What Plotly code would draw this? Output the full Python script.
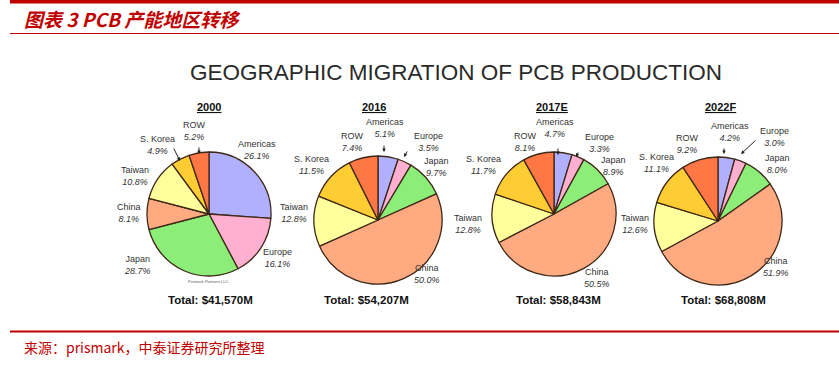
import plotly.graph_objects as go

W, H = 839, 368

# ---------------- data ----------------
regions = ["Americas", "Europe", "Japan", "China", "Taiwan", "S. Korea", "ROW"]
years = ["2000", "2016", "2017E", "2022F"]
share_2000 = [26.1, 16.1, 28.7, 8.1, 10.8, 4.9, 5.2]
share_2016 = [5.1, 3.5, 9.7, 50.0, 12.8, 11.5, 7.4]
share_2017 = [4.7, 3.3, 8.9, 50.5, 12.8, 11.7, 8.1]
share_2022 = [4.2, 3.0, 8.0, 51.9, 12.6, 11.1, 9.2]
totals = ["$41,570M", "$54,207M", "$58,843M", "$68,808M"]
shares = [share_2000, share_2016, share_2017, share_2022]

colors = ["#b0b0ff", "#ffb0d0", "#8ced78", "#ffaa80", "#ffff9c", "#ffcc33", "#ff7744"]

# ---------------- layout (pixel positions) ----------------
pie_geom = [(209, 214, 62), (378, 220, 64), (554, 214, 62), (718, 221, 64)]
year_pos = [(209, 107), (374, 107), (552, 107), (720, 107)]
total_pos = [(210, 300), (366, 300), (558, 300), (723, 300)]
label_pos = [
    {"ROW": (194, 131), "S. Korea": (157, 145), "Americas": (257, 150), "Taiwan": (135, 176),
     "China": (129, 213), "Japan": (137, 265), "Europe": (277, 258)},
    {"Americas": (385, 128), "ROW": (352, 142), "Europe": (428, 142), "S. Korea": (311, 165),
     "Japan": (436, 167), "Taiwan": (294, 213), "China": (427, 274)},
    {"Americas": (555, 128), "ROW": (525, 142), "Europe": (599, 143), "S. Korea": (483, 165),
     "Japan": (613, 166), "Taiwan": (468, 224), "China": (597, 278)},
    {"Americas": (730, 132), "ROW": (687, 144), "Europe": (774, 137), "S. Korea": (656, 163),
     "Japan": (777, 164), "Taiwan": (635, 224), "China": (776, 267)},
]
arrows = [
    ((199, 146), (199, 154)), ((173, 147), (180, 161)),
    ((384, 144), (384, 152)), ((408, 150), (404, 157)),
    ((558, 147), (558, 155)), ((579, 151), (576, 157)),
    ((724, 147), (724, 154)), ((757, 139), (741, 154)),
]


def px(x):
    return x / W


def py(y):
    return 1 - y / H


LABEL_FONT = "Arial, Liberation Sans, sans-serif"

fig = go.Figure()
for (cx, cy, r), vals in zip(pie_geom, shares):
    fig.add_trace(go.Pie(
        labels=regions, values=vals, sort=False, direction="clockwise", rotation=0,
        marker=dict(colors=colors, line=dict(color="#3e2818", width=1.3)),
        textinfo="none", hoverinfo="label+percent", showlegend=False,
        domain=dict(x=[px(cx - r), px(cx + r)], y=[py(cy + r), py(cy - r)]),
    ))

ann = []
# header title
ann.append(dict(x=px(22), y=py(18), xref="paper", yref="paper", xanchor="left", yanchor="middle",
                text="<b><i>图表 3 PCB 产能地区转移</i></b>", showarrow=False,
                font=dict(family="Noto Sans CJK SC", size=19, color="#c00000")))
# footer
ann.append(dict(x=px(22), y=py(347), xref="paper", yref="paper", xanchor="left", yanchor="middle",
                text="来源：prismark，中泰证券研究所整理", showarrow=False,
                font=dict(family="Noto Sans CJK SC", size=14, color="#c00000")))
# main title
ann.append(dict(x=px(456), y=py(72), xref="paper", yref="paper", xanchor="center", yanchor="middle",
                text="GEOGRAPHIC MIGRATION OF PCB PRODUCTION", showarrow=False,
                font=dict(family=LABEL_FONT, size=22.5, color="#2a2a2a")))
# years, totals
for yr, (x, y) in zip(years, year_pos):
    ann.append(dict(x=px(x), y=py(y), xref="paper", yref="paper", xanchor="center", yanchor="middle",
                    text="<b><u>%s</u></b>" % yr, showarrow=False,
                    font=dict(family=LABEL_FONT, size=11, color="#111")))
for tot, (x, y) in zip(totals, total_pos):
    ann.append(dict(x=px(x), y=py(y), xref="paper", yref="paper", xanchor="center", yanchor="middle",
                    text="<b>Total: %s</b>" % tot, showarrow=False,
                    font=dict(family=LABEL_FONT, size=11.5, color="#111")))
# slice labels
for vals, pos in zip(shares, label_pos):
    for name, v in zip(regions, vals):
        x, y = pos[name]
        ann.append(dict(x=px(x), y=py(y), xref="paper", yref="paper", xanchor="center", yanchor="middle",
                        text="%s<br><i>%.1f%%</i>" % (name, v), showarrow=False,
                        font=dict(family=LABEL_FONT, size=9, color="#333")))
# leader arrows
for (x0, y0), (x1, y1) in arrows:
    ann.append(dict(x=px(x1), y=py(y1), xref="paper", yref="paper",
                    ax=x0 - x1, ay=y0 - y1, axref="pixel", ayref="pixel",
                    text="", showarrow=True, arrowhead=2, arrowsize=0.7, arrowwidth=1,
                    arrowcolor="#222"))
# tiny source note below 2000 pie
ann.append(dict(x=px(208), y=py(281), xref="paper", yref="paper", xanchor="center", yanchor="middle",
                text="Prismark Partners LLC", showarrow=False,
                font=dict(family=LABEL_FONT, size=4, color="#555")))

shapes = [
    dict(type="rect", xref="paper", yref="paper", x0=px(10), x1=1, y0=py(3.5), y1=1,
         fillcolor="#c00000", line=dict(width=0)),
    dict(type="line", xref="paper", yref="paper", x0=px(10), x1=1, y0=py(33.5), y1=py(33.5),
         line=dict(color="#c00000", width=1)),
    dict(type="line", xref="paper", yref="paper", x0=px(10), x1=1, y0=py(331.5), y1=py(331.5),
         line=dict(color="#c00000", width=2)),
]

fig.update_layout(
    width=W, height=H, margin=dict(l=0, r=0, t=0, b=0),
    paper_bgcolor="white", plot_bgcolor="white",
    annotations=ann, shapes=shapes,
)

fig.write_html("out.html", config={"displayModeBar": False},
               post_script="document.body.style.margin='0px';")
